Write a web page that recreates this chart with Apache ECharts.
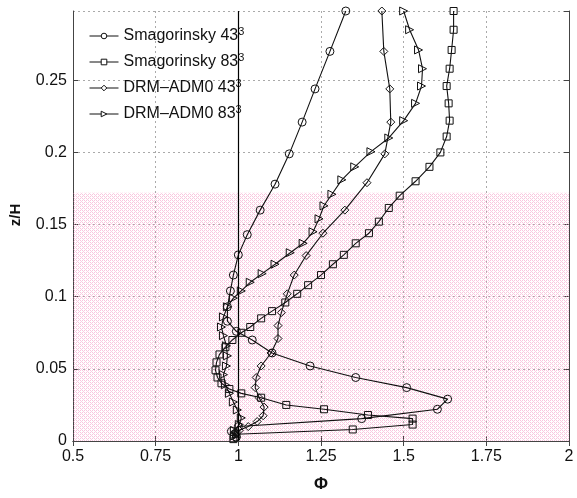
<!DOCTYPE html>
<html>
<head>
<meta charset="utf-8">
<script src="https://cdn.jsdelivr.net/npm/echarts@6/dist/echarts.min.js"></script>
<style>
html,body{margin:0;padding:0;background:#fff;}
#chart{width:577px;height:498px;}
</style>
</head>
<body>
<div id="chart"></div>
<script>
// ---- Data (Phi vs z/H) ----
const seriesNames = ['Smagorinsky 43³', 'Smagorinsky 83³', 'DRM\u2013ADM0 43³', 'DRM\u2013ADM0 83³'];

const smag43Phi = [1.325,1.277,1.232,1.193,1.154,1.111,1.066,1.027,1.000,0.985,0.976,0.967,0.967,0.994,1.042,1.102,1.217,1.355,1.509,1.633,1.602,1.373,1.000,0.979,0.994];
const smag43Z   = [0.298,0.270,0.244,0.221,0.199,0.178,0.160,0.143,0.129,0.115,0.104,0.093,0.083,0.076,0.070,0.061,0.052,0.044,0.037,0.029,0.022,0.0155,0.010,0.0067,0.0027];

const smag83Phi = [1.651,1.651,1.645,1.639,1.630,1.636,1.639,1.630,1.611,1.578,1.536,1.488,1.455,1.425,1.395,1.355,1.319,1.286,1.250,1.211,1.178,1.142,1.102,1.069,1.036,1.009,0.982,0.961,0.943,0.934,0.931,0.937,0.949,0.973,1.009,1.069,1.145,1.259,1.392,1.527,1.527,1.346,0.994,0.985];
const smag83Z   = [0.298,0.285,0.271,0.258,0.246,0.234,0.222,0.211,0.200,0.190,0.180,0.170,0.1615,0.152,0.144,0.137,0.129,0.1225,0.115,0.108,0.102,0.096,0.090,0.085,0.079,0.075,0.070,0.065,0.060,0.0545,0.049,0.044,0.040,0.036,0.033,0.030,0.025,0.022,0.018,0.0155,0.0114,0.008,0.0047,0.0013];

const drm43Phi = [1.434,1.440,1.458,1.461,1.443,1.389,1.322,1.256,1.205,1.169,1.148,1.130,1.120,1.120,1.099,1.069,1.054,1.051,1.063,1.078,1.075,1.057,1.030,1.003,0.988,0.991];
const drm43Z   = [0.298,0.270,0.244,0.221,0.199,0.179,0.160,0.144,0.1285,0.115,0.102,0.089,0.080,0.071,0.061,0.052,0.044,0.037,0.030,0.0235,0.0175,0.0135,0.010,0.0074,0.0047,0.002];

const drm83Phi = [1.500,1.518,1.545,1.557,1.554,1.536,1.500,1.455,1.401,1.352,1.313,1.283,1.259,1.244,1.226,1.196,1.157,1.111,1.072,1.036,1.009,0.985,0.967,0.955,0.949,0.955,0.964,0.967,0.964,0.955,0.961,0.973,0.985,0.997,1.009,1.003,0.988,0.988];
const drm83Z   = [0.298,0.285,0.271,0.258,0.246,0.234,0.222,0.210,0.2005,0.190,0.181,0.171,0.163,0.154,0.145,0.137,0.1305,0.1225,0.116,0.110,0.104,0.099,0.093,0.086,0.079,0.073,0.066,0.059,0.052,0.046,0.039,0.033,0.027,0.0215,0.016,0.0114,0.0074,0.0034];

const xTicks = [0.5, 0.75, 1, 1.25, 1.5, 1.75, 2];
const yTicks = [0, 0.05, 0.1, 0.15, 0.2, 0.25];
const shadeTop = 0.172;   // top of shaded band (z/H)
const refPhi = 1;         // vertical reference line

function zip(a, b) { return a.map((v, i) => [v, b[i]]); }

// dotted pink texture for shaded band
function makePattern() {
  const c = document.createElement('canvas');
  c.width = 4; c.height = 4;
  const g = c.getContext('2d');
  g.fillStyle = 'rgba(244,150,195,0.55)';
  g.fillRect(0, 0, 1, 1);
  g.fillRect(2, 0, 1, 1);
  g.fillRect(0, 2, 1, 1);
  g.fillRect(2, 2, 1, 1);
  g.fillStyle = 'rgba(240,120,180,0.35)';
  g.fillRect(1, 1, 1, 1);
  g.fillRect(3, 3, 1, 1);
  return c;
}

const font = "'Liberation Sans', Arial, Helvetica, sans-serif";
const symbols = ['circle', 'rect', 'diamond', 'path://M0,0L10,5L0,10Z'];
const sizes = [8, 7, 8, 8];
const dataSets = [zip(smag43Phi, smag43Z), zip(smag83Phi, smag83Z), zip(drm43Phi, drm43Z), zip(drm83Phi, drm83Z)];

const series = dataSets.map((d, i) => ({
  name: seriesNames[i],
  type: 'line',
  data: d,
  symbol: symbols[i],
  symbolSize: sizes[i],
  showAllSymbol: true,
  smooth: false,
  z: 3,
  lineStyle: { color: '#111', width: 1.1 },
  itemStyle: { color: 'rgba(255,255,255,0)', borderColor: '#111', borderWidth: 1 },
  emphasis: { disabled: true },
  animation: false
}));

series.push({
  name: 'band',
  type: 'line',
  data: [],
  z: 1,
  markArea: {
    silent: true,
    itemStyle: { color: { image: makePattern(), repeat: 'repeat' } },
    data: [[{ yAxis: 0 }, { yAxis: shadeTop }]]
  },
  markLine: {
    silent: true,
    symbol: ['none', 'none'],
    label: { show: false },
    lineStyle: { color: '#000', width: 1.2, type: 'solid' },
    data: [{ xAxis: refPhi }]
  },
  animation: false
});

const chart = echarts.init(document.getElementById('chart'), null, { renderer: 'canvas' });
chart.setOption({
  animation: false,
  backgroundColor: '#fff',
  grid: { left: 71, right: 8, top: 11, bottom: 44, containLabel: false },
  legend: {
    data: seriesNames,
    orient: 'vertical',
    left: 84,
    top: 21,
    itemWidth: 29,
    itemHeight: 7,
    itemGap: 8,
    itemStyle: { color: '#fff', borderColor: '#111', borderWidth: 1 },
    lineStyle: { color: '#111', width: 1 },
    formatter: function (name) {
      return '{a|' + name.replace('³', '') + '}{s|3}';
    },
    textStyle: {
      fontFamily: font, fontSize: 16, color: '#111',
      rich: {
        a: { fontFamily: font, fontSize: 16, color: '#111', lineHeight: 20 },
        s: { fontFamily: font, fontSize: 11, color: '#111', verticalAlign: 'top', lineHeight: 20, padding: [0, 0, 6, 0] }
      }
    }
  },
  xAxis: [{
    type: 'value', min: xTicks[0], max: xTicks[xTicks.length - 1], interval: 0.25,
    name: 'Φ', nameLocation: 'middle', nameGap: 35,
    nameTextStyle: { fontFamily: font, fontSize: 17, fontWeight: 'bold', color: '#111' },
    axisLine: { show: true, lineStyle: { color: '#444', width: 1 } },
    axisTick: { show: true, inside: true, length: 5, lineStyle: { color: '#444' } },
    axisLabel: { fontFamily: font, fontSize: 16, color: '#111', margin: 8 },
    splitLine: { show: true, lineStyle: { color: '#aaa', type: [2, 3], width: 1 } }
  }, {
    type: 'value', position: 'top', min: 0.5, max: 2, interval: 0.25,
    axisLine: { show: true, lineStyle: { color: '#444', width: 1 } },
    axisTick: { show: true, inside: true, length: 5, lineStyle: { color: '#444' } },
    axisLabel: { show: false }, splitLine: { show: false }
  }],
  yAxis: [{
    type: 'value', min: yTicks[0], max: 0.298, interval: 0.05,
    name: 'z/H', nameLocation: 'middle', nameGap: 50, nameRotate: 90,
    nameTextStyle: { fontFamily: font, fontSize: 15, fontWeight: 'bold', color: '#111', padding: [0, 0, 0, 22] },
    axisLine: { show: true, lineStyle: { color: '#444', width: 1 } },
    axisTick: { show: true, inside: true, length: 5, lineStyle: { color: '#444' } },
    axisLabel: { fontFamily: font, fontSize: 16, color: '#111', margin: 6, showMaxLabel: false },
    splitLine: { show: true, lineStyle: { color: '#aaa', type: [2, 3], width: 1 } }
  }, {
    type: 'value', position: 'right', min: 0, max: 0.298, interval: 0.05,
    axisLine: { show: true, lineStyle: { color: '#444', width: 1 } },
    axisTick: { show: true, inside: true, length: 5, lineStyle: { color: '#444' } },
    axisLabel: { show: false }, splitLine: { show: false }
  }],
  series: series
});
</script>
</body>
</html>
